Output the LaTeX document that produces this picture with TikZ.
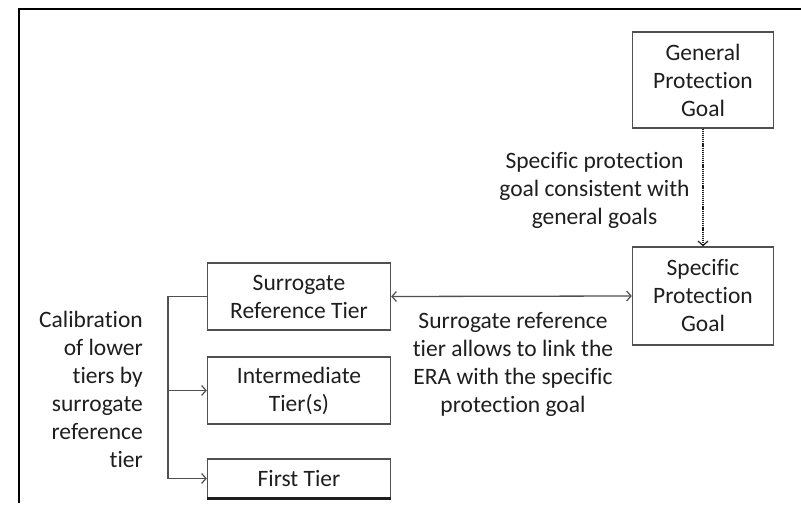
\documentclass[tikz,border=0pt]{standalone}
\usepackage{fontspec}
\setmainfont[Ligatures=NoCommon]{Carlito}
\usetikzlibrary{arrows.meta}
\definecolor{txt}{HTML}{1E1E1E}
\definecolor{ln}{HTML}{505050}
\tikzset{
  box/.style={draw=ln, line width=1.3pt, align=center, text=txt, inner sep=0pt,
    font=\fontsize{23.5}{28}\selectfont},
  lbl/.style={text=txt, inner sep=0pt, font=\fontsize{23.5}{28}\selectfont},
  tip/.style={-{Straight Barb[length=4.5pt,width=10pt,line width=1.2pt]}},
  conn/.style={draw=ln, line width=1.3pt}
}
\begin{document}
\begin{tikzpicture}[x=1pt,y=-1pt]
\useasboundingbox (0,0) rectangle (801,513);
% frame
\draw[line width=2.8pt, black] (19,503) -- (19,9) -- (801,9);
% boxes
\node[box, minimum width=141pt, minimum height=96pt] (gpg) at (703,80) {General\\Protection\\Goal};
\node[box, minimum width=141pt, minimum height=98pt] (spg) at (703,296) {Specific\\Protection\\Goal};
\node[box, minimum width=183pt, minimum height=67pt] (srt) at (299,296.5) {Surrogate\\Reference Tier};
\node[box, minimum width=183pt, minimum height=67pt] (it) at (299,390.5) {Intermediate\\Tier(s)};
\node[box, minimum width=183pt, minimum height=39pt] (ft) at (299,478.5) {First Tier};
\draw[line width=2.4pt, txt] (ft.south west) -- (ft.south east);
% labels
\node[lbl, align=center] (l1) at (594.5,190.5) {Specific protection\\goal consistent with\\general goals};
\node[lbl, align=center] (l2) at (513,364) {Surrogate reference\\tier allows to link the\\ERA with the specific\\protection goal};
\node[lbl, align=right, anchor=east] (l3) at (143,389) {Calibration\\of lower\\tiers by\\surrogate\\reference\\tier};
% connectors
\draw[conn, draw=txt, dash pattern=on 1.2pt off 0.9pt, line width=2pt, tip] (gpg.south) -- (spg.north);
\draw[conn, {Straight Barb[length=4.5pt,width=10pt,line width=1.2pt]}-{Straight Barb[length=4.5pt,width=10pt,line width=1.2pt]}] (srt.east) -- (spg.west);
\coordinate (b1) at (168,296.5);
\coordinate (b3) at (168,478.5);
\draw[conn] (srt.west) -- (b1) -- (b3);
\draw[conn, tip] (b3) -- (ft.west);
\draw[conn, tip] (b1 |- it.west) -- (it.west);
\end{tikzpicture}
\end{document}
